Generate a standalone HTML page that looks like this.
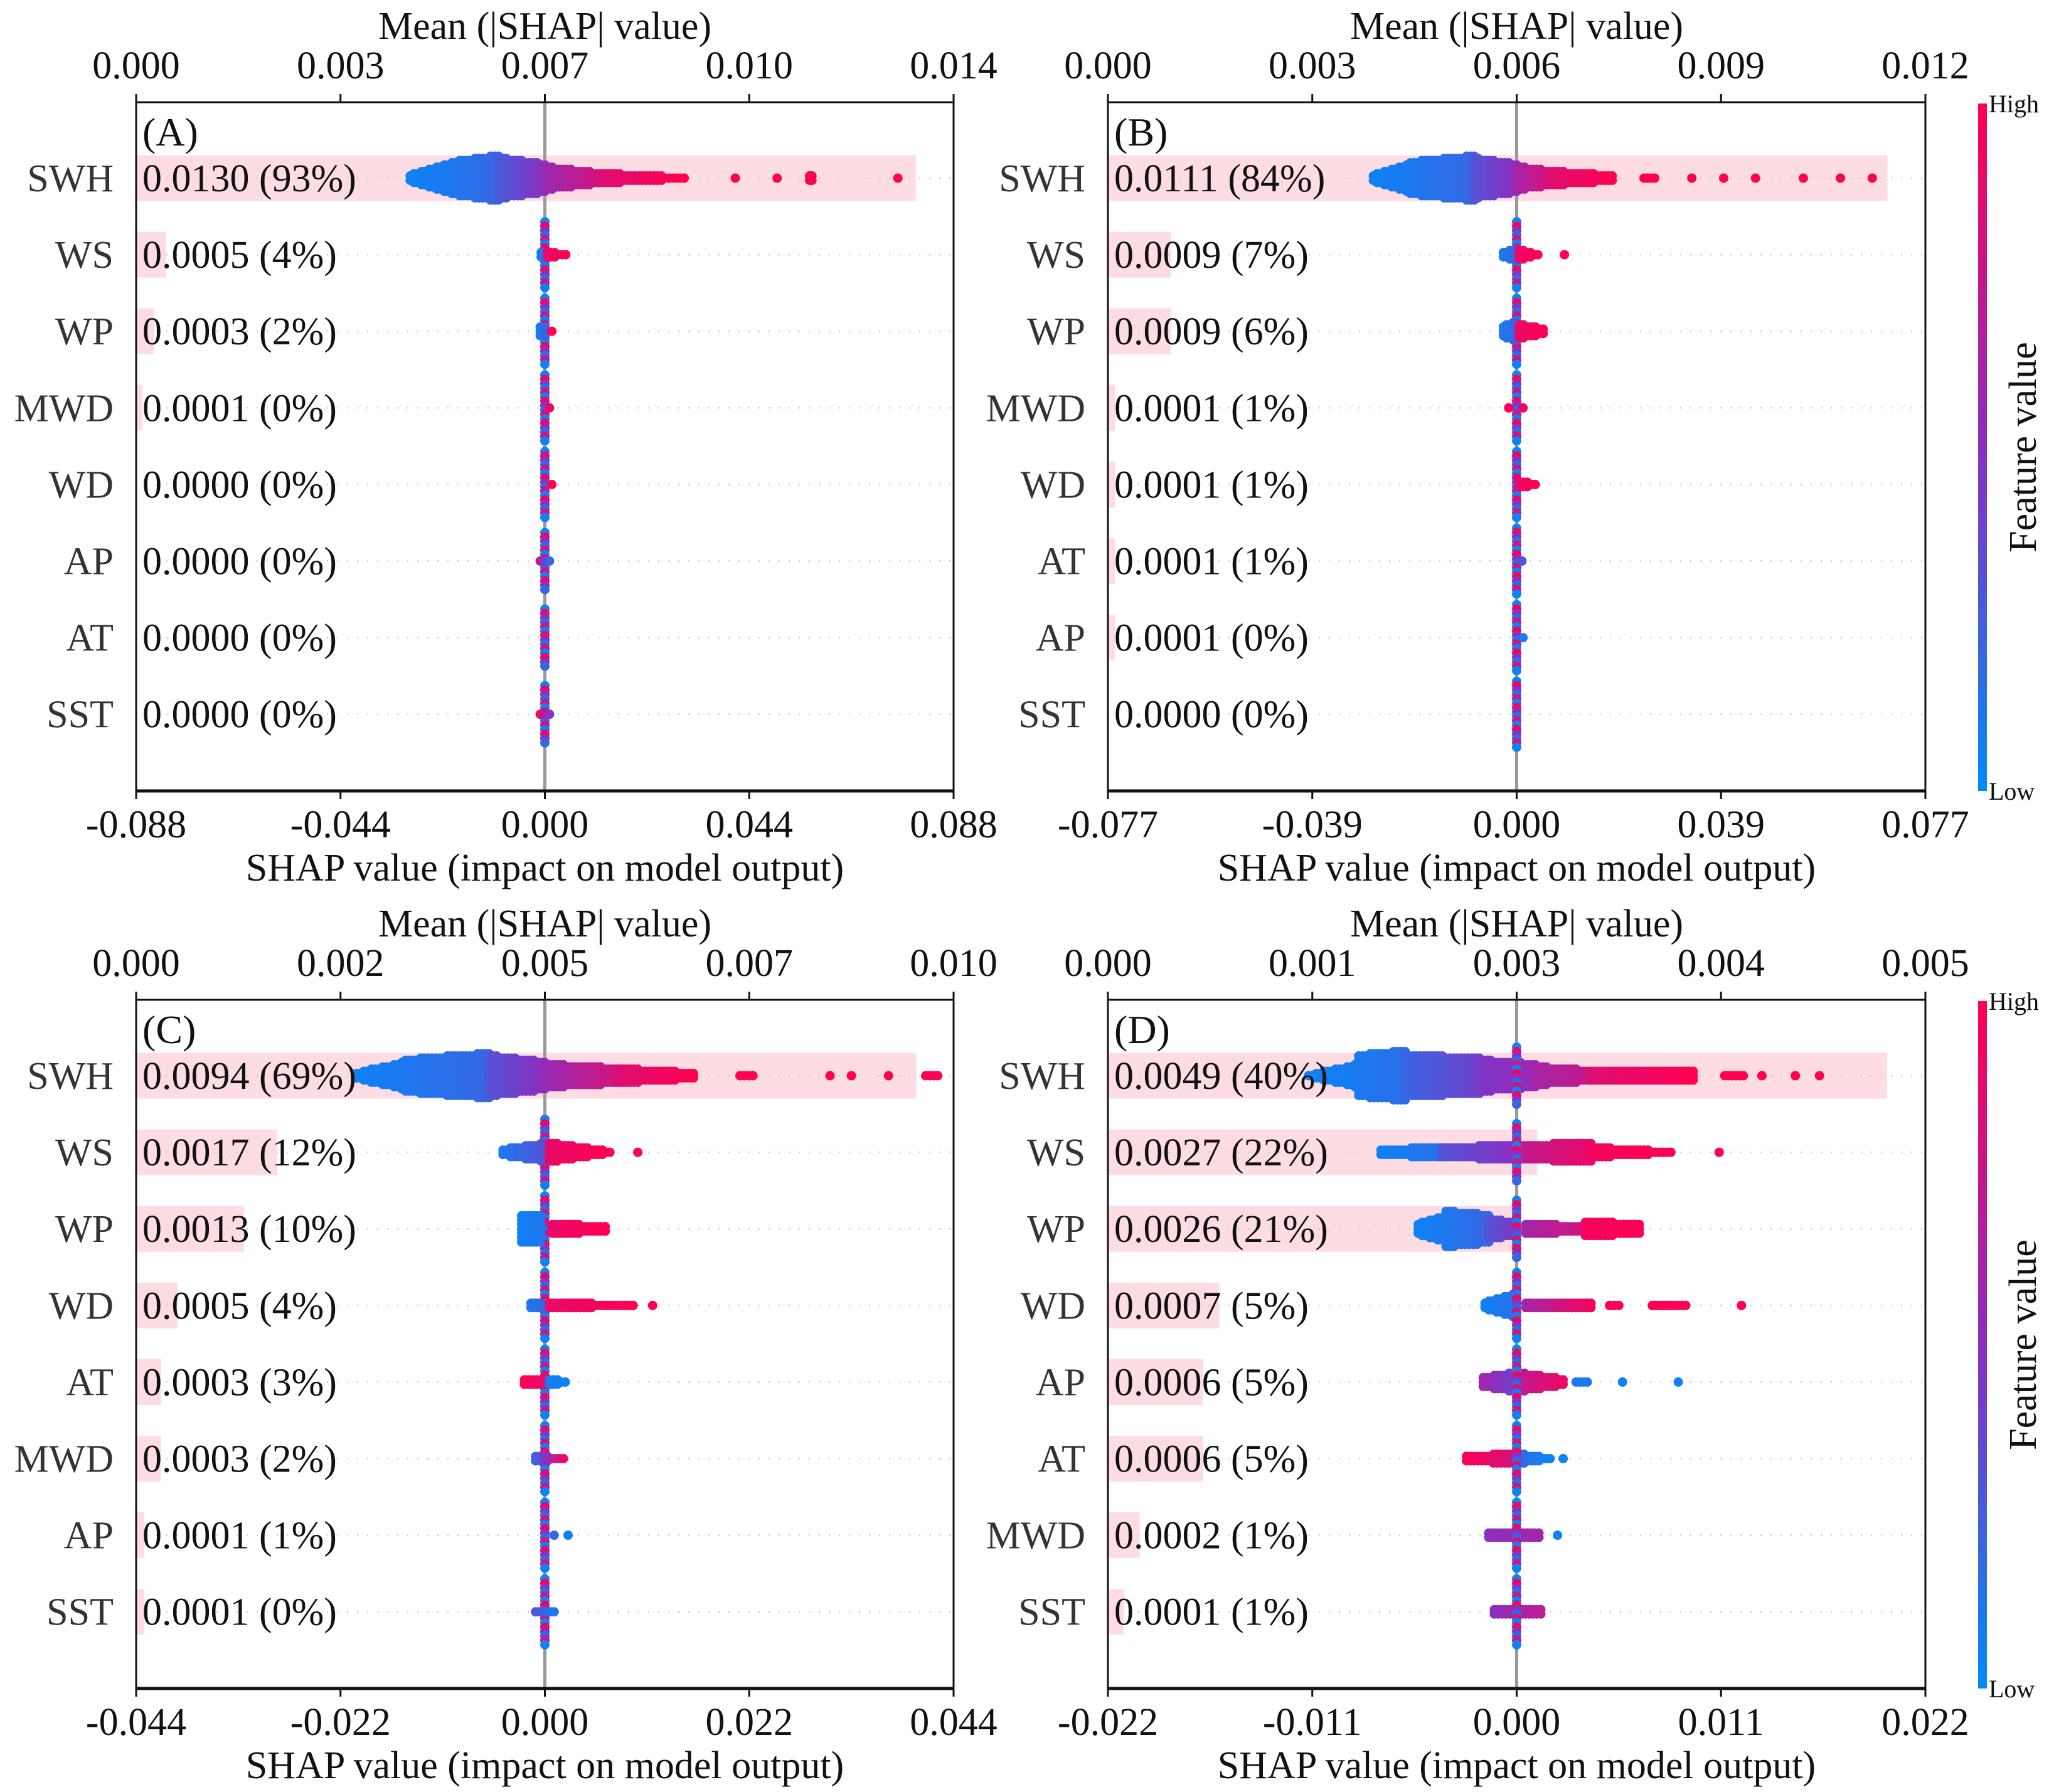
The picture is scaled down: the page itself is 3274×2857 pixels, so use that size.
<!DOCTYPE html>
<html><head><meta charset="utf-8"><style>
html,body{margin:0;padding:0;background:#fff;}
svg{display:block;font-family:"Liberation Serif",serif;}
</style></head><body>
<svg id="fig" xmlns="http://www.w3.org/2000/svg" width="3274" height="2857" viewBox="0 0 3274 2857">
<defs>
<linearGradient id="cbar" x1="0" y1="1" x2="0" y2="0">
<stop offset="0" stop-color="#008bfb"/><stop offset="0.5" stop-color="#8a2fc0"/><stop offset="1" stop-color="#ff0052"/>
</linearGradient>
</defs>
</svg>
<script>
// ---------- data ----------
const featuresA=["SWH","WS","WP","MWD","WD","AP","AT","SST"];
const meansA=[0.0130,0.0005,0.0003,0.0001,0.0000,0.0000,0.0000,0.0000];
const pctA=[93,4,2,0,0,0,0,0];
const featuresB=["SWH","WS","WP","MWD","WD","AT","AP","SST"];
const meansB=[0.0111,0.0009,0.0009,0.0001,0.0001,0.0001,0.0001,0.0000];
const pctB=[84,7,6,1,1,1,0,0];
const featuresC=["SWH","WS","WP","WD","AT","MWD","AP","SST"];
const meansC=[0.0094,0.0017,0.0013,0.0005,0.0003,0.0003,0.0001,0.0001];
const pctC=[69,12,10,4,3,2,1,0];
const featuresD=["SWH","WS","WP","WD","AP","AT","MWD","SST"];
const meansD=[0.0049,0.0027,0.0026,0.0007,0.0006,0.0006,0.0002,0.0001];
const pctD=[40,22,21,5,5,5,1,1];
const topTicksA=["0.000","0.003","0.007","0.010","0.014"];
const topTicksB=["0.000","0.003","0.006","0.009","0.012"];
const topTicksC=["0.000","0.002","0.005","0.007","0.010"];
const topTicksD=["0.000","0.001","0.003","0.004","0.005"];
const topMax=[0.01363,0.01164,0.00985,0.00514];
const shapLim=[0.088,0.077,0.044,0.022];
const botTicksA=["-0.088","-0.044","0.000","0.044","0.088"];
const botTicksB=["-0.077","-0.039","0.000","0.039","0.077"];
const botTicksC=["-0.044","-0.022","0.000","0.022","0.044"];
const botTicksD=["-0.022","-0.011","0.000","0.011","0.022"];
// swarm clusters per feature: [shapStart, shapEnd, colorStart, colorEnd, stackStart, stackEnd]; color -1 = mixed
const swarmA=[
 [[-0.029,-0.020,0.05,0.1,2,8],[-0.020,-0.010,0.1,0.2,8,11],[-0.010,0,0.25,0.5,10,7],[0,0.012,0.55,0.8,6,3],[0.012,0.030,0.85,1,3,1],[0.041,0.041,1,1,1,1],[0.050,0.050,1,1,1,1],[0.057,0.0575,1,1,2,2],[0.076,0.076,1,1,1,1]],
 [[0,0,-1,-1,16,16],[-0.0008,0,0.1,0.1,2,2],[0.0005,0.0045,0.9,1,2,1]],
 [[0,0,-1,-1,16,16],[-0.001,0,0.1,0.2,3,3],[0.0015,0.0015,1,1,1,1]],
 [[0,0,-1,-1,16,16],[0.001,0.001,0.9,0.9,1,1]],
 [[0,0,-1,-1,16,16],[0.0015,0.0015,1,1,1,1]],
 [[0,0,-1,-1,14,14],[-0.001,0.001,0.7,0.2,1,1]],
 [[0,0,-1,-1,14,14]],
 [[0,0,-1,-1,14,14],[-0.001,0.001,0.9,0.5,1,1]]];
const swarmB=[
 [[-0.027,-0.02,0.05,0.1,2,7],[-0.02,-0.008,0.1,0.2,8,11],[-0.008,0,0.3,0.5,10,7],[0,0.006,0.6,0.8,6,4],[0.006,0.018,0.85,1,4,2],[0.024,0.026,1,1,1,1],[0.033,0.033,1,1,1,1],[0.039,0.039,1,1,1,1],[0.045,0.045,1,1,1,1],[0.054,0.054,1,1,1,1],[0.061,0.061,1,1,1,1],[0.067,0.067,1,1,1,1]],
 [[0,0,-1,-1,16,16],[-0.0025,0,0.1,0.2,2,3],[0.0005,0.004,0.9,1,3,1],[0.009,0.009,1,1,1,1]],
 [[0,0,-1,-1,16,16],[-0.0025,0,0.1,0.2,3,5],[0.0005,0.005,0.9,1,4,2]],
 [[0,0,-1,-1,16,16],[-0.0015,-0.0015,1,1,1,1],[0.0012,0.0012,0.9,0.9,1,1]],
 [[0,0,-1,-1,16,16],[0.0005,0.0035,0.9,1,2,1]],
 [[0,0,-1,-1,16,16],[0.001,0.001,0.3,0.3,1,1]],
 [[0,0,-1,-1,16,16],[0.0012,0.0012,0.1,0.1,1,1]],
 [[0,0,-1,-1,16,16]]];
const swarmC=[
 [[-0.0203,-0.015,0.05,0.1,2,7],[-0.015,-0.006,0.1,0.2,8,11],[-0.006,0,0.3,0.5,10,7],[0,0.008,0.55,0.8,6,4],[0.008,0.016,0.85,1,4,2],[0.021,0.0224,1,1,1,1],[0.0307,0.0307,1,1,1,1],[0.033,0.033,1,1,1,1],[0.037,0.037,1,1,1,1],[0.041,0.0423,1,1,1,1]],
 [[0,0,-1,-1,16,16],[-0.0045,0,0.1,0.3,2,5],[0.0005,0.007,0.9,1,5,1],[0.010,0.010,1,1,1,1]],
 [[0,0,-1,-1,16,16],[-0.0025,-0.0005,0.05,0.1,7,7],[0.0008,0.0065,0.9,1,3,2]],
 [[0,0,-1,-1,16,16],[-0.0015,0,0.1,0.2,2,2],[0.0005,0.0095,0.9,1,2,1],[0.0116,0.0116,1,1,1,1]],
 [[0,0,-1,-1,16,16],[-0.0022,0,1,0.9,2,2],[0.0005,0.0022,0.1,0.05,2,1]],
 [[0,0,-1,-1,16,16],[-0.001,0.002,0.2,0.9,2,1]],
 [[0,0,-1,-1,16,16],[0.001,0.001,0.2,0.2,1,1],[0.0025,0.0025,0.05,0.05,1,1]],
 [[0,0,-1,-1,16,16],[-0.001,0.001,0.3,0.1,1,1]]];
const swarmD=[
 [[-0.0112,-0.0085,0.05,0.08,1,6],[-0.0085,-0.006,0.1,0.15,10,12],[-0.006,-0.002,0.2,0.4,10,9],[-0.002,0.001,0.45,0.55,8,6],[0.001,0.004,0.6,0.75,5,3],[0.004,0.0095,0.85,1,3,3],[0.0112,0.0122,1,1,1,1],[0.0132,0.0132,1,1,1,1],[0.015,0.015,1,1,1,1],[0.0163,0.0163,1,1,1,1],[0,0,-1,-1,14,14]],
 [[-0.0073,-0.004,0.05,0.15,2,3],[-0.004,0,0.3,0.5,3,4],[0,0.004,0.7,0.9,4,5],[0.004,0.0083,0.95,1,3,1],[0.0109,0.0109,1,1,1,1],[0,0,-1,-1,14,14]],
 [[-0.0053,-0.0038,0.05,0.1,3,7],[-0.0038,-0.0015,0.1,0.2,9,7],[-0.0015,0,0.3,0.45,5,4],[0.0005,0.0037,0.6,0.8,3,2],[0.0037,0.0066,0.95,1,4,3],[0,0,-1,-1,14,14]],
 [[-0.0017,0,0.05,0.15,2,6],[0.0005,0.004,0.6,0.95,2,2],[0.005,0.0055,1,1,1,1],[0.0073,0.0091,1,1,1,1],[0.0121,0.0121,1,1,1,1],[0,0,-1,-1,16,16]],
 [[-0.0018,0,0.6,0.4,3,5],[0,0.0025,0.7,0.9,5,2],[0.0032,0.0038,0.1,0.1,1,1],[0.0057,0.0057,0.05,0.05,1,1],[0.0087,0.0087,0.05,0.05,1,1],[0,0,-1,-1,16,16]],
 [[-0.0027,0,1,0.8,2,3],[0,0.0018,0.2,0.05,3,1],[0.0025,0.0025,0.05,0.05,1,1],[0,0,-1,-1,16,16]],
 [[-0.0015,0.0012,0.5,0.6,2,2],[0.0022,0.0022,0.05,0.05,1,1],[0,0,-1,-1,16,16]],
 [[-0.0012,0.0013,0.5,0.7,2,2],[0,0,-1,-1,16,16]]];
// ---------- drawing ----------
const NS="http://www.w3.org/2000/svg";
const svg=document.getElementById('fig');
function mk(tag,attrs,parent,text){const e=document.createElementNS(NS,tag);for(const k in attrs)e.setAttribute(k,attrs[k]);if(text!==undefined)e.textContent=text;(parent||svg).appendChild(e);return e;}
function cmap(t){
 const s=[[0,139,251],[138,47,192],[255,0,82]];
 let a,b,u; if(t<0.5){a=s[0];b=s[1];u=t/0.5;}else{a=s[1];b=s[2];u=(t-0.5)/0.5;}
 return `rgb(${Math.round(a[0]+(b[0]-a[0])*u)},${Math.round(a[1]+(b[1]-a[1])*u)},${Math.round(a[2]+(b[2]-a[2])*u)})`;
}
const mixCycle=[0.05,0.95,0.5,0.2,0.8];
const panels=[
 {id:"a",tag:"(A)",L:217,T:163,f:featuresA,m:meansA,p:pctA,tt:topTicksA,bt:botTicksA,sw:swarmA},
 {id:"b",tag:"(B)",L:1766,T:163,f:featuresB,m:meansB,p:pctB,tt:topTicksB,bt:botTicksB,sw:swarmB},
 {id:"c",tag:"(C)",L:217,T:1594,f:featuresC,m:meansC,p:pctC,tt:topTicksC,bt:botTicksC,sw:swarmC},
 {id:"d",tag:"(D)",L:1766,T:1594,f:featuresD,m:meansD,p:pctD,tt:topTicksD,bt:botTicksD,sw:swarmD}];
const W=1303,H=1098,ROW0=121,ROWSTEP=122.1;
panels.forEach((P,pi)=>{
 const g=mk('g',{});
 
 
 const L=P.L,T=P.T,R=L+W,B=T+H;
 const xs=v=>L+(v+shapLim[pi])/(2*shapLim[pi])*W;
 const xm=v=>L+v/topMax[pi]*W;
 const yr=i=>T+ROW0+i*ROWSTEP;
 // bars
 P.m.forEach((v,i)=>{
  const r=mk('rect',{x:L,y:yr(i)-36.5,width:Math.max(0,xm(v)-L),height:73,fill:'#fddde3'},g);
  
  
 });
 // grid rows
 P.f.forEach((f,i)=>{
  const l=mk('line',{x1:L,x2:R,y1:yr(i),y2:yr(i),stroke:'#cccccc','stroke-width':2.5,'stroke-dasharray':'2 14'},g);
  
  
 });
 // zero line
 const z=mk('line',{x1:xs(0),x2:xs(0),y1:T,y2:B,stroke:'#999999','stroke-width':5},g);
 
 
 // swarms
 P.sw.forEach((segs,i)=>{
  const sg=mk('g',{},g);
  
  
  segs.forEach(s=>{
   const x0=xs(s[0]),x1=xs(s[1]);
   const nx=Math.max(1,Math.round((x1-x0)/6)+1);
   for(let k=0;k<nx;k++){
    const u=nx===1?0:k/(nx-1);
    const x=x0+(x1-x0)*u;
    const n=Math.max(1,Math.round(s[4]+(s[5]-s[4])*u));
    for(let j=0;j<n;j++){
     const c=s[2]<0?cmap(mixCycle[(j+k)%mixCycle.length]):cmap(s[2]+(s[3]-s[2])*u);
     const y=yr(i)+(j-(n-1)/2)*7;
     const d=mk('circle',{cx:x,cy:y,r:7.5,fill:c},sg);
     
     
    }
   }
  });
 });
 // frame
 const fr=mk('rect',{x:L,y:T,width:W,height:H,fill:'none',stroke:'#111','stroke-width':3},g);
 
 
 mk('line',{x1:L,x2:R,y1:B,y2:B,stroke:'#111','stroke-width':5},g);
 // tag
 const tg=mk('text',{x:L+10,y:yr(0)-52,'font-size':64,fill:'#111'},g,P.tag);
 
 
 // y labels and value labels
 P.f.forEach((f,i)=>{
  const t=mk('text',{x:L-36,y:yr(i)+21,'font-size':62,'text-anchor':'end',fill:'#333'},g,f);
  
  
  const v=mk('text',{x:L+10,y:yr(i)+21,'font-size':62,fill:'#111'},g,P.m[i].toFixed(4)+' ('+P.p[i]+'%)');
  
  
 });
 // ticks
 for(let k=0;k<5;k++){
  const x=L+k*W/4;
  mk('line',{x1:x,x2:x,y1:T-13,y2:T,stroke:'#111','stroke-width':3},g);
  mk('line',{x1:x,x2:x,y1:B,y2:B+13,stroke:'#111','stroke-width':3},g);
  const tt=mk('text',{x:x,y:T-38,'font-size':62,'text-anchor':'middle',fill:'#111'},g,P.tt[k]);
  
  
  const bt=mk('text',{x:x,y:B+74,'font-size':62,'text-anchor':'middle',fill:'#111'},g,P.bt[k]);
  
  
 }
 const t1=mk('text',{x:xs(0),y:T-101,'font-size':62,'text-anchor':'middle',fill:'#111'},g,'Mean (|SHAP| value)');
 
 
 const t2=mk('text',{x:xs(0),y:B+143,'font-size':62,'text-anchor':'middle',fill:'#111'},g,'SHAP value (impact on model output)');
 
 
});
// colorbars
[[165,1261],[1596,2692]].forEach((yy,ci)=>{
 const g=mk('g',{});
 
 
 mk('rect',{x:3153,y:yy[0],width:14,height:yy[1]-yy[0],fill:'url(#cbar)'},g);
 mk('text',{x:3170,y:yy[0]+14,'font-size':40,fill:'#111'},g,'High');
 mk('text',{x:3170,y:yy[1]+14,'font-size':40,fill:'#111'},g,'Low');
 const cy=(yy[0]+yy[1])/2;
 const ft=mk('text',{x:3245,y:cy,'font-size':62,'text-anchor':'middle',fill:'#111',transform:`rotate(-90 3245 ${cy})`},g,'Feature value');
 
 
});
</script>
</body></html>
